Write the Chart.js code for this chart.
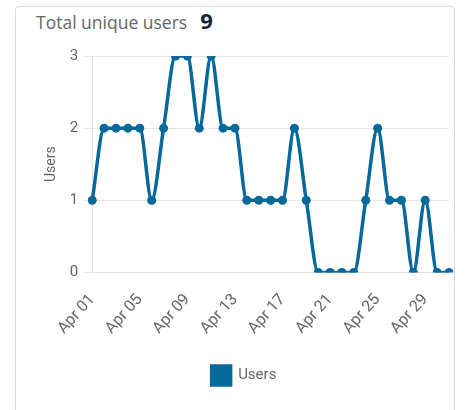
<!DOCTYPE html>
<html>
<head>
<meta charset="utf-8">
<script src="https://cdn.jsdelivr.net/npm/chart.js@4.4.1/dist/chart.umd.min.js"></script>
<style>
    body { margin: 0; background: #fff; width: 467px; height: 410px; overflow: hidden; position: relative; }
    .card {
        position: absolute; left: 15px; top: 6px; width: 440px; height: 420px;
        border: 1px solid #dcdcdc; border-radius: 4px; box-sizing: border-box;
    }
    .title {
        position: absolute; left: 20px; top: -2px;
        font-family: "Open Sans", sans-serif; font-size: 17.5px; color: #666;
    }
    .title b {
        font-family: "Open Sans", sans-serif;
        font-size: 22px; color: #14213d; margin-left: 13px; font-weight: 700;
    }
    .wrap { position: absolute; left: 16px; top: 40px; width: 439px; height: 355px; }
</style>
</head>
<body>
<div class="card">
    <div class="title">Total unique users<b>9</b></div>
</div>
<div class="wrap"><canvas id="chart1"></canvas></div>
<script>
const DAYS = ['Apr 01', 'Apr 02', 'Apr 03', 'Apr 04', 'Apr 05', 'Apr 06', 'Apr 07', 'Apr 08',
    'Apr 09', 'Apr 10', 'Apr 11', 'Apr 12', 'Apr 13', 'Apr 14', 'Apr 15', 'Apr 16', 'Apr 17',
    'Apr 18', 'Apr 19', 'Apr 20', 'Apr 21', 'Apr 22', 'Apr 23', 'Apr 24', 'Apr 25', 'Apr 26',
    'Apr 27', 'Apr 28', 'Apr 29', 'Apr 30', 'May 01'];
const USERS = [1, 2, 2, 2, 2, 1, 2, 3, 3, 2, 3, 2, 2, 1, 1, 1, 1, 2, 1, 0, 0, 0, 0, 1, 2, 1, 1, 0, 1, 0, 0];
const Y_TICKS = [0, 1, 2, 3];

const BLUE = '#07689a';

const config1 = {
    type: 'line',
    data: {
        labels: DAYS,
        datasets: [{
            label: 'Users',
            data: USERS,
            borderColor: BLUE,
            backgroundColor: BLUE,
            borderWidth: 3.5,
            pointRadius: 4.5,
            pointBackgroundColor: BLUE,
            pointBorderWidth: 0,
            cubicInterpolationMode: 'monotone',
            fill: false
        }]
    },
    options: {
        responsive: true,
        maintainAspectRatio: false,
        animation: false,
        layout: { padding: { left: 23, right: 6, top: 16, bottom: 0 } },
        plugins: {
            legend: {
                position: 'bottom',
                labels: {
                    boxWidth: 19, boxHeight: 19, color: '#666',
                    font: { family: 'Roboto', size: 15 },
                    padding: 18
                }
            },
            tooltip: { enabled: false }
        },
        scales: {
            x: {
                grid: { display: false },
                border: { color: '#e2e2e2' },
                ticks: {
                    autoSkip: false,
                    minRotation: 48, maxRotation: 48,
                    color: '#666',
                    padding: 10,
                    font: { family: 'Roboto', size: 16 },
                    callback: (v, i) => i % 4 === 0 ? DAYS[i] : null
                }
            },
            y: {
                min: 0, max: 3,
                afterBuildTicks: axis => { axis.ticks = Y_TICKS.map(v => ({ value: v })); },
                grid: { color: '#e6e6e6', tickLength: 8 },
                border: { color: '#e2e2e2' },
                title: {
                    display: true, text: 'Users', color: '#666',
                    font: { family: 'Roboto', size: 14 }
                },
                ticks: {
                    color: '#666',
                    font: { family: 'Roboto', size: 15 },
                    padding: 6
                }
            }
        }
    }
};

const myChart1 = new Chart(document.getElementById('chart1'), config1);
</script>
</body>
</html>
